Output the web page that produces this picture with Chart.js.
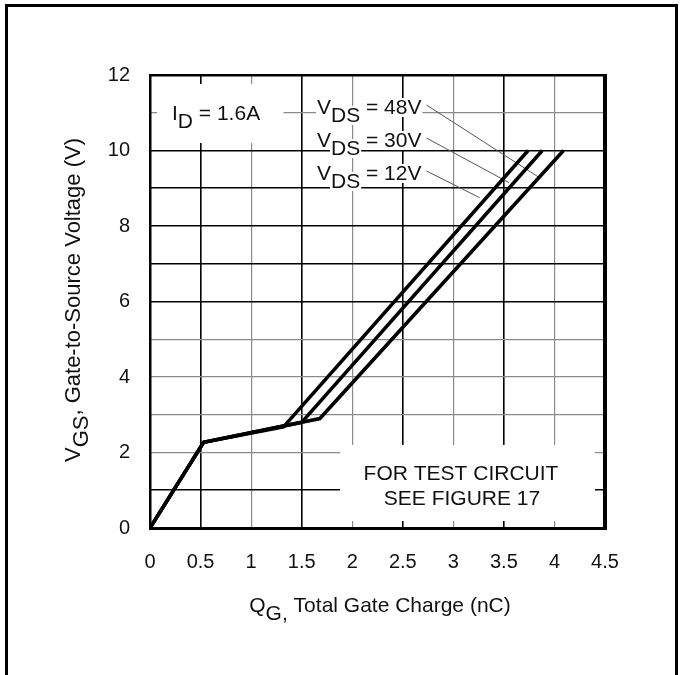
<!DOCTYPE html>
<html lang="en">
<head>
<meta charset="utf-8">
<title>Gate Charge</title>
<script src="https://cdn.jsdelivr.net/npm/chart.js@4.4.0/dist/chart.umd.min.js"></script>
<style>
  html, body { margin: 0; padding: 0; background: #fff; }
</style>
</head>
<body>
<canvas id="chart" width="683" height="675"></canvas>
<script>
// gate charge curves
const vdsLabels = ['48V', '30V', '12V'];
const qg48 = [0, 0.53, 1.68, 4.09];
const vgs48 = [0, 2.27, 2.9, 10];
const qg30 = [0, 0.53, 1.5, 3.88];
const vgs30 = [0, 2.27, 2.8, 10];
const qg12 = [0, 0.53, 1.32, 3.74];
const vgs12 = [0, 2.27, 2.68, 10];
// where each VDS leader line touches its curve (same order as vdsLabels)
const leaderQ = [3.84, 3.55, 3.26];
const leaderV = [9.3, 9.15, 8.75];
const xTicks = [0, 0.5, 1, 1.5, 2, 2.5, 3, 3.5, 4, 4.5];
const yTicks = [0, 2, 4, 6, 8, 10, 12];

const FONT = '"Liberation Sans", Arial, sans-serif';
const darkRows = [1, 6, 7, 8, 9, 10];

function toPoints(xs, ys) {
  return xs.map((q, i) => ({x: q, y: ys[i]}));
}

// draws text made of normal / subscript parts, returns end x
function drawParts(ctx, parts, x, y, bg) {
  for (const [t, sub] of parts) {
    const w = ctx.measureText(t).width;
    const yy = y + (sub ? 8 : 0);
    if (bg) {
      ctx.fillStyle = '#fff';
      ctx.fillRect(x - 1, yy - 16, w + 2, 19);
      ctx.fillStyle = '#111';
    }
    ctx.fillText(t, x, yy);
    x += w;
  }
  return x;
}

const annotate = {
  id: 'annotate',
  beforeDatasetsDraw(chart) {
    const {ctx, chartArea: a, scales: {x, y}} = chart;
    ctx.save();
    // white boxes behind the notes, leaving small tick stubs at the frame
    ctx.fillStyle = '#fff';
    ctx.fillRect(a.left + 7, a.top + 9, x.getPixelForValue(1.32) - a.left - 7, y.getPixelForValue(10.2) - a.top - 9);
    ctx.fillRect(x.getPixelForValue(1.88), y.getPixelForValue(2.2), a.right - 10 - x.getPixelForValue(1.88), a.bottom - 7 - y.getPixelForValue(2.2));

    ctx.fillStyle = '#111';
    ctx.font = '21px ' + FONT;
    ctx.textBaseline = 'alphabetic';
    ctx.textAlign = 'left';
    drawParts(ctx, [['I', 0], ['D', 1], [' = 1.6A', 0]], 172, 120, false);

    ctx.textAlign = 'center';
    ctx.fillText('FOR TEST CIRCUIT', 461, 480);
    ctx.fillText('SEE FIGURE 17', 462, 505);
    ctx.textAlign = 'left';

    // VDS labels with leader lines to the curves
    const base = [114, 147, 180];
    vdsLabels.forEach((lab, i) => {
      const end = drawParts(ctx, [['V', 0], ['DS', 1], [' = ' + lab, 0]], 317, base[i], true);
      ctx.strokeStyle = '#555';
      ctx.lineWidth = 1;
      ctx.beginPath();
      ctx.moveTo(end + 5, base[i] - 9);
      ctx.lineTo(x.getPixelForValue(leaderQ[i]), y.getPixelForValue(leaderV[i]));
      ctx.stroke();
    });

    // plot frame
    ctx.fillStyle = '#000';
    ctx.fillRect(a.left - 1, a.top - 1, 2.5, a.bottom - a.top + 2);
    ctx.fillRect(a.left - 1, a.top - 1, a.right - a.left + 2, 2.5);
    ctx.fillRect(a.right - 2, a.top - 1, 4, a.bottom - a.top + 3);
    ctx.fillRect(a.left - 1, a.bottom - 1, a.right - a.left + 3, 3);
    ctx.restore();
  },
  afterDraw(chart) {
    const {ctx} = chart;
    ctx.save();
    ctx.fillStyle = '#111';
    ctx.font = '21px ' + FONT;
    ctx.textBaseline = 'alphabetic';
    ctx.textAlign = 'left';
    // x title
    const xParts = [['Q', 0], ['G,', 1], [' Total Gate Charge (nC)', 0]];
    const xw = xParts.reduce((s, p) => s + ctx.measureText(p[0]).width, 0);
    drawParts(ctx, xParts, 380 - xw / 2, 612, false);
    // y title
    ctx.font = '22px ' + FONT;
    const yParts = [['V', 0], ['GS', 1], [', Gate-to-Source Voltage (V)', 0]];
    const yw = yParts.reduce((s, p) => s + ctx.measureText(p[0]).width, 0);
    ctx.translate(80, 300);
    ctx.rotate(-Math.PI / 2);
    drawParts(ctx, yParts, -yw / 2, 0, false);
    ctx.restore();
    // outer frame
    ctx.save();
    ctx.strokeStyle = '#000';
    ctx.lineWidth = 3;
    ctx.strokeRect(6.5, 5.5, 670, 720);
    ctx.restore();
  }
};

const curve = {
  showLine: true,
  borderColor: '#000',
  borderWidth: 3.5,
  pointRadius: 0,
  tension: 0,
  fill: false
};

new Chart(document.getElementById('chart'), {
  type: 'scatter',
  data: {
    datasets: [
      {...curve, label: 'VDS = 48V', data: toPoints(qg48, vgs48)},
      {...curve, label: 'VDS = 30V', data: toPoints(qg30, vgs30)},
      {...curve, label: 'VDS = 12V', data: toPoints(qg12, vgs12)}
    ]
  },
  options: {
    responsive: false,
    animation: false,
    devicePixelRatio: 1,
    layout: { padding: { left: 0, right: 78, top: 75, bottom: 0 } },
    plugins: { legend: { display: false }, tooltip: { enabled: false } },
    scales: {
      x: {
        type: 'linear',
        min: 0,
        max: 4.5,
        afterFit(scale) { scale.height = 147; },
        afterBuildTicks(scale) { scale.ticks = xTicks.map(v => ({value: v})); },
        ticks: {
          padding: 22,
          color: '#111',
          font: { family: FONT, size: 20 },
          maxRotation: 0,
          autoSkip: false,
          callback: v => String(v)
        },
        border: { display: false },
        grid: {
          drawTicks: false,
          color: c => (Math.round(c.tick.value * 2) % 2 === 1) ? '#000' : '#8a8a8a',
          lineWidth: c => (Math.round(c.tick.value * 2) % 2 === 1) ? 1.6 : 1.2
        }
      },
      y: {
        type: 'linear',
        min: 0,
        max: 12,
        afterFit(scale) { scale.width = 150; },
        afterBuildTicks(scale) {
          const t = [];
          for (let v = 0; v <= 12; v++) t.push({value: v});
          scale.ticks = t;
        },
        ticks: {
          padding: 20,
          color: '#111',
          font: { family: FONT, size: 20 },
          autoSkip: false,
          callback: v => yTicks.includes(v) ? String(v) : ''
        },
        border: { display: false },
        grid: {
          drawTicks: false,
          color: c => darkRows.includes(c.tick.value) ? '#000' : '#8a8a8a',
          lineWidth: c => darkRows.includes(c.tick.value) ? 1.6 : 1.2
        }
      }
    }
  },
  plugins: [annotate]
});
</script>
</body>
</html>
